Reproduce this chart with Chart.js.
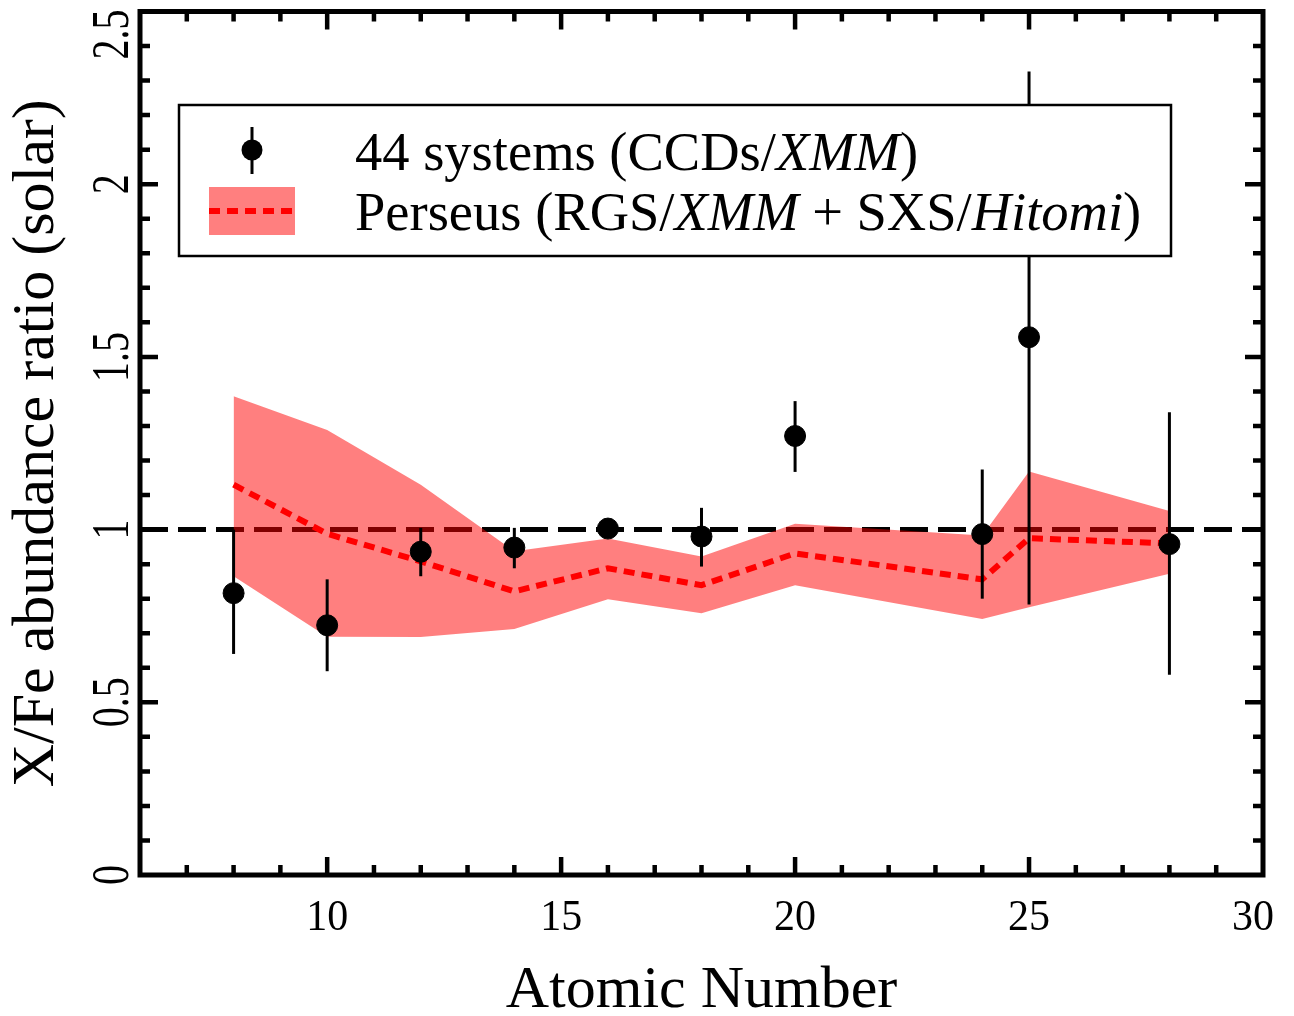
<!DOCTYPE html>
<html lang="en">
<head>
    <meta charset="UTF-8">
    <title>X/Fe abundance ratio</title>
    <script src="https://cdn.jsdelivr.net/npm/chart.js"></script>
    <style>
        body { margin: 0; background: #fff; }
        #wrap { width: 1294px; height: 1016px; position: relative; }
    </style>
</head>
<body>
    <div id="wrap"><canvas id="abundChart"></canvas></div>

    <script>
        // 44 systems (CCDs/XMM): ratio with lower/upper error bounds
        const atomicNumbers = [8, 10, 12, 14, 16, 18, 20, 24, 25, 28];
        const ratio     = [0.816, 0.723, 0.936, 0.948, 1.003, 0.980, 1.271, 0.987, 1.557, 0.958];
        const ratioLow  = [0.640, 0.590, 0.865, 0.888, 0.985, 0.893, 1.167, 0.800, 0.783, 0.580];
        const ratioHigh = [1.000, 0.856, 1.005, 1.005, 1.020, 1.063, 1.372, 1.174, 2.326, 1.340];

        // Perseus (RGS/XMM + SXS/Hitomi): best fit and band
        const perseusZ    = [8, 10, 12, 14, 16, 18, 20, 24, 25, 28];
        const perseusMid  = [1.130, 0.988, 0.908, 0.821, 0.888, 0.839, 0.931, 0.856, 0.975, 0.960];
        const perseusLow  = [0.865, 0.690, 0.689, 0.712, 0.798, 0.758, 0.839, 0.741, 0.775, 0.872];
        const perseusHigh = [1.386, 1.288, 1.130, 0.937, 0.974, 0.922, 1.017, 0.983, 1.168, 1.054];

        const xTicks = [10, 15, 20, 25, 30];
        const yTicks = ['0', '0.5', '1', '1.5', '2', '2.5'];

        const FONT = '"Liberation Serif", "Times New Roman", serif';
        const pts = (xs, ys) => xs.map((x, i) => ({ x: x, y: ys[i] }));

        // error bars under the black points
        const errorBars = {
            id: 'errorBars',
            beforeDatasetDraw(chart, args) {
                if (args.meta.label !== 'points') return;
                const { ctx, scales: { x, y } } = chart;
                ctx.save();
                ctx.strokeStyle = '#000';
                ctx.lineWidth = 3;
                atomicNumbers.forEach((z, i) => {
                    const px = x.getPixelForValue(z);
                    ctx.beginPath();
                    ctx.moveTo(px, y.getPixelForValue(ratioLow[i]));
                    ctx.lineTo(px, y.getPixelForValue(ratioHigh[i]));
                    ctx.stroke();
                });
                ctx.restore();
            }
        };

        function stretchedText(ctx, text, x, y, size, sy, rot) {
            ctx.save();
            ctx.translate(x, y);
            if (rot) ctx.rotate(rot);
            ctx.scale(1, sy);
            ctx.font = size + 'px ' + FONT;
            ctx.fillText(text, 0, 0);
            ctx.restore();
        }

        function mixedText(ctx, parts, x, y, size) {
            let cx = x;
            parts.forEach(p => {
                ctx.font = (p[1] ? 'italic ' : '') + size + 'px ' + FONT;
                ctx.fillText(p[0], cx, y);
                cx += ctx.measureText(p[0]).width;
            });
        }

        // frame, inward ticks, labels, titles and legend
        const frame = {
            id: 'frame',
            afterDatasetsDraw(chart) {
                const { ctx, chartArea: a, scales: { x, y } } = chart;
                ctx.save();
                ctx.strokeStyle = '#000';
                ctx.fillStyle = '#000';

                ctx.lineWidth = 4.5;
                for (let v = 7; v <= 29; v++) {
                    const px = x.getPixelForValue(v);
                    const len = v % 5 === 0 ? 18 : 10;
                    ctx.beginPath();
                    ctx.moveTo(px, a.bottom); ctx.lineTo(px, a.bottom - len);
                    ctx.moveTo(px, a.top); ctx.lineTo(px, a.top + len);
                    ctx.stroke();
                }
                for (let k = 1; k < 25; k++) {
                    const py = y.getPixelForValue(k / 10);
                    const len = k % 5 === 0 ? 18 : 10;
                    ctx.beginPath();
                    ctx.moveTo(a.left, py); ctx.lineTo(a.left + len, py);
                    ctx.moveTo(a.right, py); ctx.lineTo(a.right - len, py);
                    ctx.stroke();
                }

                ctx.lineWidth = 5;
                ctx.strokeRect(a.left, a.top, a.right - a.left, a.bottom - a.top);

                // x tick labels
                ctx.textAlign = 'center';
                ctx.textBaseline = 'alphabetic';
                xTicks.forEach(v => {
                    let px = x.getPixelForValue(v);
                    if (v === 30) px -= 10;
                    stretchedText(ctx, String(v), px, 930, 42, 1.06, 0);
                });

                // y tick labels, rotated
                yTicks.forEach(t => {
                    let py = y.getPixelForValue(parseFloat(t));
                    if (t === '2.5') py += 23;
                    stretchedText(ctx, t, 128, py, 40, 1.3, -Math.PI / 2);
                });

                // axis titles
                ctx.font = '60px ' + FONT;
                ctx.fillText('Atomic Number', (a.left + a.right) / 2, 1007);
                ctx.save();
                ctx.translate(53, (a.top + a.bottom) / 2);
                ctx.rotate(-Math.PI / 2);
                ctx.fillText('X/Fe abundance ratio (solar)', 0, 0);
                ctx.restore();

                // legend
                ctx.fillStyle = '#fff';
                ctx.fillRect(179, 105, 992, 151);
                ctx.lineWidth = 2.5;
                ctx.strokeRect(179, 105, 992, 151);

                ctx.strokeStyle = '#000';
                ctx.lineWidth = 3;
                ctx.beginPath();
                ctx.moveTo(252, 127); ctx.lineTo(252, 174);
                ctx.stroke();
                ctx.fillStyle = '#000';
                ctx.beginPath();
                ctx.arc(252, 150, 10.5, 0, Math.PI * 2);
                ctx.fill();

                ctx.fillStyle = 'rgba(255, 0, 0, 0.5)';
                ctx.fillRect(209, 187, 86, 48);
                ctx.strokeStyle = '#ff0000';
                ctx.lineWidth = 6;
                ctx.setLineDash([11, 7]);
                ctx.beginPath();
                ctx.moveTo(209, 211); ctx.lineTo(292, 211);
                ctx.stroke();
                ctx.setLineDash([]);

                ctx.fillStyle = '#000';
                ctx.textAlign = 'left';
                mixedText(ctx, [['44 systems (CCDs/', false], ['XMM', true], [')', false]], 355, 170, 54.5);
                mixedText(ctx, [['Perseus (RGS/', false], ['XMM', true], [' + SXS/', false],
                                ['Hitomi', true], [')', false]], 355, 230, 54.5);
                ctx.restore();
            }
        };

        const ctx = document.getElementById('abundChart').getContext('2d');
        new Chart(ctx, {
            type: 'scatter',
            data: {
                datasets: [
                    {
                        label: 'points',
                        data: pts(atomicNumbers, ratio),
                        backgroundColor: '#000',
                        borderColor: '#000',
                        pointRadius: 10.5,
                        pointHoverRadius: 10.5,
                        order: 0
                    },
                    {
                        label: 'perseus',
                        type: 'line',
                        data: pts(perseusZ, perseusMid),
                        borderColor: '#ff0000',
                        borderWidth: 6,
                        borderDash: [11, 7],
                        pointRadius: 0,
                        fill: false,
                        tension: 0,
                        order: 1
                    },
                    {
                        label: 'band high',
                        type: 'line',
                        data: pts(perseusZ, perseusHigh),
                        borderWidth: 0,
                        pointRadius: 0,
                        backgroundColor: 'rgba(255, 0, 0, 0.5)',
                        fill: '+1',
                        tension: 0,
                        order: 2
                    },
                    {
                        label: 'band low',
                        type: 'line',
                        data: pts(perseusZ, perseusLow),
                        borderWidth: 0,
                        pointRadius: 0,
                        fill: false,
                        tension: 0,
                        order: 3
                    },
                    {
                        label: 'solar',
                        type: 'line',
                        data: [{ x: 6, y: 1 }, { x: 30, y: 1 }],
                        borderColor: '#000',
                        borderWidth: 5,
                        borderDash: [28, 10],
                        pointRadius: 0,
                        fill: false,
                        order: 4
                    }
                ]
            },
            options: {
                responsive: true,
                maintainAspectRatio: false,
                animation: false,
                layout: { padding: { left: 140, right: 31, top: 8, bottom: 141 } },
                plugins: {
                    legend: { display: false },
                    tooltip: { enabled: false }
                },
                scales: {
                    x: { type: 'linear', min: 6, max: 30, display: false },
                    y: { type: 'linear', min: 0, max: 2.5, display: false }
                }
            },
            plugins: [errorBars, frame]
        });
    </script>
</body>
</html>
